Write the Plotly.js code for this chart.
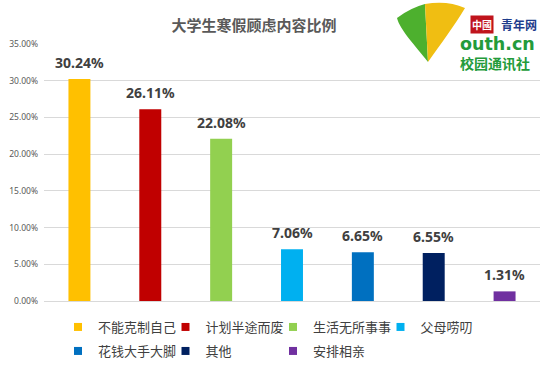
<!DOCTYPE html>
<html>
<head>
<meta charset="utf-8">
<script src="https://cdn.plot.ly/plotly-3.0.1.min.js"></script>
<style>html,body{margin:0;padding:0;background:#fff;}#chart{width:551px;height:368px;}</style>
</head>
<body>
<div id="chart"></div>
<script>
// ---- data ----
var categories = ['不能克制自己', '计划半途而废', '生活无所事事', '父母唠叨', '花钱大手大脚', '其他', '安排相亲'];
var values = [0.3024, 0.2611, 0.2208, 0.0706, 0.0665, 0.0655, 0.0131];
var barColors = ['#FFC000', '#C00000', '#92D050', '#00B0F0', '#0070C0', '#002060', '#7030A0'];
var yTickVals = [0, 0.05, 0.10, 0.15, 0.20, 0.25, 0.30, 0.35];
var chartTitle = '大学生寒假顾虑内容比例';

// ---- geometry helpers (plot area in px) ----
var W = 551, H = 368;
var M = {l: 44, r: 11, t: 44, b: 67, autoexpand: false};
var PW = W - M.l - M.r, PH = H - M.t - M.b;
function px(x) { return (x - M.l) / PW; }
function py(y) { return (H - M.b - y) / PH; }

var CJK = '"Noto Sans CJK SC", "Noto Sans", sans-serif';
var NUM = '"Noto Sans", "DejaVu Sans", sans-serif';

var traces = [];
categories.forEach(function (c, i) {
  traces.push({
    type: 'bar', x: [c], y: [values[i]], width: 0.31,
    marker: {color: barColors[i]}, showlegend: false, hoverinfo: 'skip', name: c
  });
});
// legend entries (row 1 -> legend, row 2 -> legend2)
categories.forEach(function (c, i) {
  traces.push({
    type: 'scatter', mode: 'markers', x: [null], y: [null], name: c,
    marker: {symbol: 'square', size: 8, color: barColors[i]},
    legend: i < 4 ? 'legend' : 'legend2', hoverinfo: 'skip'
  });
});

var annotations = categories.map(function (c, i) {
  return {
    x: c, y: values[i], xref: 'x', yref: 'y', text: (values[i] * 100).toFixed(2) + '%',
    showarrow: false, yanchor: 'bottom', yshift: 5,
    font: {family: NUM, size: 14, color: '#404040', weight: 'bold'}
  };
});

// logo texts
annotations.push({xref: 'paper', yref: 'paper', x: px(470), y: py(24.5), xanchor: 'left', yanchor: 'middle',
  text: '中國', showarrow: false, bgcolor: '#C0141C', borderpad: 1,
  font: {family: '"Noto Sans CJK TC", sans-serif', size: 10, color: '#ffffff', weight: 'bold'}});
annotations.push({xref: 'paper', yref: 'paper', x: px(499), y: py(24.5), xanchor: 'left', yanchor: 'middle',
  text: '青年网', showarrow: false,
  font: {family: CJK, size: 12, color: '#1E3C8C', weight: 'bold'}});
annotations.push({xref: 'paper', yref: 'paper', x: px(458), y: py(44), xanchor: 'left', yanchor: 'middle',
  text: 'outh.cn', showarrow: false,
  font: {family: '"DejaVu Sans", sans-serif', size: 17.5, color: '#239B3A', weight: 'bold'}});
annotations.push({xref: 'paper', yref: 'paper', x: px(458), y: py(63.5), xanchor: 'left', yanchor: 'middle',
  text: '校园通讯社', showarrow: false,
  font: {family: CJK, size: 14, color: '#239B3A', weight: 'bold'}});

function pathPx(pts) {
  return pts.map(function (p) {
    if (typeof p === 'string') return p;
    return px(p[0]).toFixed(4) + ',' + py(p[1]).toFixed(4);
  }).join(' ');
}
var shapes = [
  {type: 'path', xref: 'paper', yref: 'paper', line: {width: 0}, fillcolor: '#4DB02E', layer: 'above',
    path: pathPx(['M', [428, 62], 'C', [415, 45], [400, 30], [397, 18], 'Q', [410, 8], [425, 4], 'Z'])},
  {type: 'path', xref: 'paper', yref: 'paper', line: {width: 0}, fillcolor: '#F0BE12', layer: 'above',
    path: pathPx(['M', [428, 62], 'L', [425, 4], 'Q', [447, 0], [465, 8], 'C', [455, 25], [440, 45], [428, 62], 'Z'])}
];

var layout = {
  width: W, height: H, margin: M,
  paper_bgcolor: '#ffffff', plot_bgcolor: '#ffffff',
  barmode: 'overlay',
  title: {text: chartTitle, x: 254 / W, xanchor: 'center', xref: 'container',
    y: 1 - 25.5 / H, yanchor: 'middle', yref: 'container',
    font: {family: CJK, size: 15, color: '#595959', weight: 'bold'}},
  xaxis: {type: 'category', categoryorder: 'array', categoryarray: categories,
    showticklabels: false, showgrid: false, zeroline: false, showline: false, ticks: '',
    range: [-0.5, categories.length - 0.5], fixedrange: true},
  yaxis: {range: [0, 0.35], tickvals: yTickVals, tickformat: '.2%',
    showgrid: true, gridcolor: '#D9D9D9', gridwidth: 1, zeroline: true, zerolinecolor: '#D9D9D9', zerolinewidth: 1,
    showline: false, ticks: '', ticklabelstandoff: 5,
    tickfont: {family: NUM, size: 8.5, color: '#595959'}, fixedrange: true},
  legend: {orientation: 'h', x: px(58), xanchor: 'left', y: py(327), yanchor: 'middle',
    entrywidth: 62.5, entrywidthmode: 'pixels', bgcolor: 'rgba(0,0,0,0)',
    font: {family: CJK, size: 13, color: '#404040'}},
  legend2: {orientation: 'h', x: px(58), xanchor: 'left', y: py(351), yanchor: 'middle',
    entrywidth: 62.5, entrywidthmode: 'pixels', bgcolor: 'rgba(0,0,0,0)',
    font: {family: CJK, size: 13, color: '#404040'}},
  annotations: annotations,
  shapes: shapes,
  showlegend: true
};

Plotly.newPlot('chart', traces, layout, {displayModeBar: false, staticPlot: true});
</script>
</body>
</html>
